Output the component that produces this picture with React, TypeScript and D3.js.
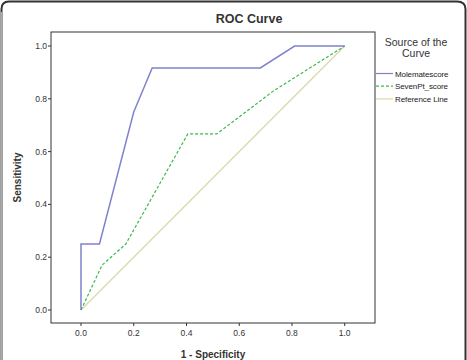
import React from "react";
import * as d3 from "d3";

const molemateFpr = [0, 0, 0.07, 0.2, 0.27, 0.68, 0.81, 1.0];
const molemateTpr = [0, 0.25, 0.25, 0.75, 0.917, 0.917, 1.0, 1.0];
const sevenPtFpr = [0, 0.08, 0.17, 0.405, 0.515, 0.73, 1.0];
const sevenPtTpr = [0, 0.17, 0.25, 0.667, 0.667, 0.83, 1.0];
const refFpr = [0, 1];
const refTpr = [0, 1];
const tickValues = [0, 0.2, 0.4, 0.6, 0.8, 1.0];
const legendNames = ["Molematescore", "SevenPt_score", "Reference Line"];
const legendColors = ["#7f83cc", "#3cb84a", "#d9d9a6"];

const width = 467;
const height = 360;
const font = "Arial, 'Liberation Sans', sans-serif";

export default function App() {
  const frame = { left: 51, right: 375, top: 32, bottom: 323 };
  const x = d3.scaleLinear().domain([0, 1]).range([81, 344.7]);
  const y = d3.scaleLinear().domain([0, 1]).range([310, 46]);

  const line = d3
    .line<[number, number]>()
    .x((d) => x(d[0]))
    .y((d) => y(d[1]));

  const zip = (a: number[], b: number[]): [number, number][] =>
    a.map((v, i) => [v, b[i]]);

  const series = [
    { pts: zip(molemateFpr, molemateTpr), color: legendColors[0], dash: null, w: 1.5 },
    { pts: zip(sevenPtFpr, sevenPtTpr), color: legendColors[1], dash: "3,2", w: 1.2 },
    { pts: zip(refFpr, refTpr), color: legendColors[2], dash: null, w: 1.2 },
  ];

  return (
    <svg
      width={width}
      height={height}
      style={{ position: "absolute", left: 0, top: 0, background: "#fff" }}
      fontFamily={font}
    >
      {/* outer frame */}
      <path
        d={`M1.5,${height + 10} L1.5,9 Q1.5,1.5 9,1.5 L457,1.5 Q465.5,1.5 465.5,9 L465.5,${height + 10}`}
        fill="none"
        stroke="#333"
        strokeWidth={2}
      />
      <line x1={1.5} y1={12} x2={1.5} y2={height} stroke="#aaa" strokeWidth={2} />

      <text x={249} y={23} textAnchor="middle" fontSize={12.5} fontWeight="bold" fill="#333">
        ROC Curve
      </text>

      {/* plot frame */}
      <rect
        x={frame.left}
        y={frame.top}
        width={frame.right - frame.left}
        height={frame.bottom - frame.top}
        fill="#fff"
        stroke="#333"
        strokeWidth={1}
      />

      {/* y ticks */}
      {tickValues.map((t) => (
        <g key={"y" + t}>
          <line x1={frame.left - 3} x2={frame.left} y1={y(t)} y2={y(t)} stroke="#333" />
          <text x={frame.left - 4} y={y(t) + 3} textAnchor="end" fontSize={8.5} fill="#333">
            {t.toFixed(1)}
          </text>
        </g>
      ))}

      {/* x ticks */}
      {tickValues.map((t) => (
        <g key={"x" + t}>
          <line x1={x(t)} x2={x(t)} y1={frame.bottom} y2={frame.bottom + 3} stroke="#333" />
          <text x={x(t)} y={frame.bottom + 13} textAnchor="middle" fontSize={8.5} fill="#333">
            {t.toFixed(1)}
          </text>
        </g>
      ))}

      <text
        transform={`translate(21,${(frame.top + frame.bottom) / 2}) rotate(-90)`}
        textAnchor="middle"
        fontSize={10}
        fontWeight="bold"
        fill="#333"
      >
        Sensitivity
      </text>
      <text x={213} y={358} textAnchor="middle" fontSize={10} fontWeight="bold" fill="#333">
        1 - Specificity
      </text>

      {/* curves */}
      {series
        .slice()
        .reverse()
        .map((s, i) => (
          <path
            key={i}
            d={line(s.pts) || ""}
            fill="none"
            stroke={s.color}
            strokeWidth={s.w}
            strokeDasharray={s.dash || undefined}
          />
        ))}

      {/* legend */}
      <text x={416} y={46} textAnchor="middle" fontSize={10.5} fill="#333">
        Source of the
      </text>
      <text x={416} y={56.5} textAnchor="middle" fontSize={10.5} fill="#333">
        Curve
      </text>
      {legendNames.map((name, i) => (
        <g key={name}>
          <line
            x1={376}
            x2={393}
            y1={73.5 + i * 12.7}
            y2={73.5 + i * 12.7}
            stroke={legendColors[i]}
            strokeWidth={1.2}
            strokeDasharray={i === 1 ? "3,2" : undefined}
          />
          <text x={395} y={76.5 + i * 12.7} fontSize={8} fill="#222" letterSpacing={-0.1}>
            {name}
          </text>
        </g>
      ))}
    </svg>
  );
}
